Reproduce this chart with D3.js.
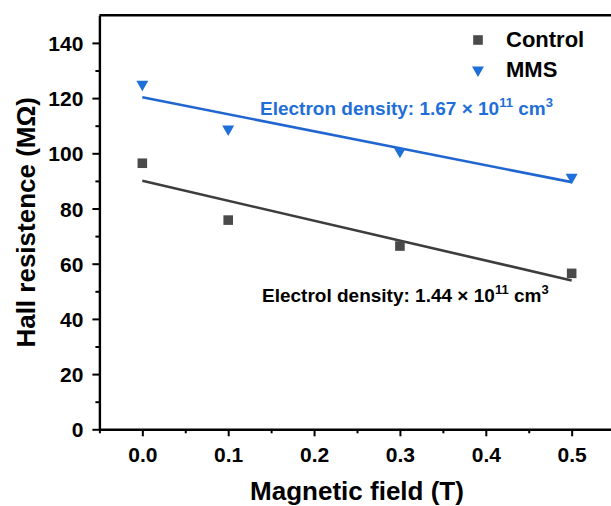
<!DOCTYPE html>
<html>
<head>
<meta charset="utf-8">
<script src="https://cdn.jsdelivr.net/npm/d3@7"></script>
<style>
  html, body { margin: 0; padding: 0; background: #fff; }
  svg { display: block; font-family: "Liberation Sans", Arial, sans-serif; }
</style>
</head>
<body>
<svg id="chart" width="611" height="506"></svg>
<script>
// Hall resistance vs. magnetic field for two sample groups
const fieldT = [0.0, 0.1, 0.3, 0.5];
const controlMOhm = [96.4, 75.8, 66.4, 56.5];
const mmsMOhm = [125.0, 108.8, 100.7, 91.3];
const xTicks = [0.0, 0.1, 0.2, 0.3, 0.4, 0.5];
const xMinorTicks = [-0.05, 0.05, 0.15, 0.25, 0.35, 0.45, 0.55];
const yTicks = [0, 20, 40, 60, 80, 100, 120, 140];
const yMinorTicks = [10, 30, 50, 70, 90, 110, 130];
const seriesNames = ["Control", "MMS"];
const densityLabels = ["1.44", "1.67"];

const colors = { control: "#4a4a4a", controlLine: "#3d3d3d", mms: "#1f6fd8", mmsLine: "#2166d0" };

const svg = d3.select("#chart");
const x = d3.scaleLinear().domain([-0.05, 0.55]).range([99.4, 614.6]);
const y = d3.scaleLinear().domain([0, 150]).range([429.3, 15.3]);

// least-squares line through a series
function fit(xs, ys) {
  const mx = d3.mean(xs), my = d3.mean(ys);
  const sxy = d3.sum(xs, (v, i) => (v - mx) * (ys[i] - my));
  const sxx = d3.sum(xs, v => (v - mx) * (v - mx));
  const slope = sxy / sxx;
  return { slope, intercept: my - slope * mx };
}

// frame: top border (right side runs past the edge)
svg.append("line")
  .attr("x1", x(-0.05)).attr("x2", x(0.55))
  .attr("y1", y(150)).attr("y2", y(150))
  .attr("stroke", "#000").attr("stroke-width", 2.4);

// minor ticks
const xMinor = svg.append("g").attr("transform", `translate(0,${y(0)})`)
  .call(d3.axisBottom(x).tickValues(xMinorTicks).tickSize(4).tickFormat(""));
const yMinor = svg.append("g").attr("transform", `translate(${x(-0.05)},0)`)
  .call(d3.axisLeft(y).tickValues(yMinorTicks).tickSize(4).tickFormat(""));
[xMinor, yMinor].forEach(g => {
  g.select(".domain").remove();
  g.selectAll(".tick line").attr("stroke", "#000").attr("stroke-width", 2);
});

// major axes
const xAxis = svg.append("g").attr("transform", `translate(0,${y(0)})`)
  .call(d3.axisBottom(x).tickValues(xTicks).tickSize(7).tickSizeOuter(0).tickPadding(11)
    .tickFormat(d3.format(".1f")));
const yAxis = svg.append("g").attr("transform", `translate(${x(-0.05)},0)`)
  .call(d3.axisLeft(y).tickValues(yTicks).tickSize(7).tickSizeOuter(0).tickPadding(9)
    .tickFormat(d3.format("d")));
[xAxis, yAxis].forEach(g => {
  g.select(".domain").attr("stroke", "#000").attr("stroke-width", 2.4);
  g.selectAll(".tick line").attr("stroke", "#000").attr("stroke-width", 2);
  g.selectAll(".tick text")
    .attr("fill", "#000")
    .style("font-family", "'Liberation Sans', Arial, sans-serif")
    .style("font-size", "21px").style("font-weight", "bold");
});
xAxis.selectAll(".tick text").attr("dy", "0.71em");
yAxis.selectAll(".tick text").attr("dy", "0.36em");

// axis titles
svg.append("text")
  .attr("x", x(0.25)).attr("y", 500)
  .attr("text-anchor", "middle")
  .style("font-size", "26px").style("font-weight", "bold")
  .text("Magnetic field (T)");
svg.append("text")
  .attr("transform", `translate(35,${y(75)}) rotate(-90)`)
  .attr("text-anchor", "middle")
  .style("font-size", "26px").style("font-weight", "bold")
  .text("Hall resistence (MΩ)");

// fitted lines
const series = [
  { vals: controlMOhm, color: colors.control, line: colors.controlLine, sym: d3.symbolSquare, size: 92, rot: 0 },
  { vals: mmsMOhm, color: colors.mms, line: colors.mmsLine, sym: d3.symbolTriangle, size: 62, rot: 180 }
];
series.forEach(s => {
  const f = fit(fieldT, s.vals);
  const x0 = d3.min(fieldT), x1 = d3.max(fieldT);
  svg.append("line")
    .attr("x1", x(x0)).attr("y1", y(f.intercept + f.slope * x0))
    .attr("x2", x(x1)).attr("y2", y(f.intercept + f.slope * x1))
    .attr("stroke", s.line).attr("stroke-width", 2.6);
});

// data markers
series.forEach(s => {
  svg.append("g").selectAll("path")
    .data(fieldT.map((t, i) => [t, s.vals[i]]))
    .join("path")
    .attr("d", d3.symbol().type(s.sym).size(s.size))
    .attr("transform", d => `translate(${x(d[0])},${y(d[1])}) rotate(${s.rot})`)
    .attr("fill", s.color);
});

// legend
const legend = svg.append("g");
series.forEach((s, i) => {
  const ly = 40 + i * 30;
  legend.append("path")
    .attr("d", d3.symbol().type(s.sym).size(s.size))
    .attr("transform", `translate(478,${ly}) rotate(${s.rot})`)
    .attr("fill", s.color);
  legend.append("text")
    .attr("x", 506).attr("y", ly + 7)
    .style("font-size", "22px").style("font-weight", "bold")
    .attr("fill", "#000")
    .text(seriesNames[i]);
});

// carrier density annotations
function densityText(xp, yp, prefix, value, color) {
  const t = svg.append("text")
    .attr("x", xp).attr("y", yp)
    .attr("fill", color)
    .style("font-size", "19px").style("font-weight", "bold");
  t.append("tspan").text(`${prefix}: ${value} × 10`);
  t.append("tspan").attr("dy", -8).style("font-size", "13px").text("11");
  t.append("tspan").attr("dy", 8).text(" cm");
  t.append("tspan").attr("dy", -8).style("font-size", "13px").text("3");
}
densityText(260, 115, "Electron density", densityLabels[1], colors.mms);
densityText(262, 302, "Electrol density", densityLabels[0], "#000");
</script>
</body>
</html>
